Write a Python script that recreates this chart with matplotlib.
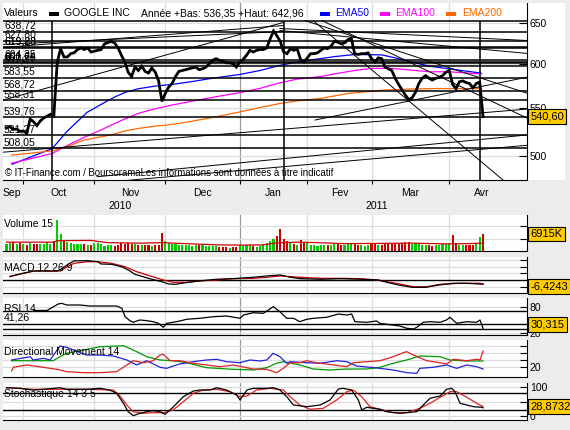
import matplotlib
matplotlib.use("Agg")
import matplotlib.pyplot as plt
from matplotlib.patches import Rectangle
from matplotlib.ticker import NullLocator
from matplotlib.transforms import blended_transform_factory, offset_copy

plt.rcParams['font.family'] = ['Liberation Sans', 'DejaVu Sans']
plt.rcParams['font.size'] = 7.5

# x = trading day index, 0 = 24 Sep 2010 ... 141 = 15 Apr 2011
closes = [
    528.5, 530, 527, 527.5, 525, 525.5, 523, 538, 535, 531,
    536, 539, 541, 543, 541, 601.5, 618, 608, 608, 612,
    613, 617, 619, 617, 619, 614, 615, 616, 617, 624,
    625.5, 627, 625, 619, 610, 602, 590, 585, 596, 592,
    597, 591, 589, 595, 590, 580, 557, 566, 573, 577,
    585, 591, 592, 593, 594, 595, 596, 593, 594, 596,
    600, 604, 606, 604, 603, 601, 601, 600, 596, 602,
    605, 610, 616, 614, 616, 617, 617, 619, 630, 640,
    634, 627, 614, 612, 618, 616, 618, 605, 602, 607,
    612, 612, 613, 616, 619, 618, 621, 627, 626, 624,
    625, 629, 631, 612, 611, 612, 612, 613, 606, 602,
    607, 606, 596, 594, 592, 583, 576, 570, 564, 559,
    561, 567, 577, 583, 586, 583, 581, 583, 584, 586,
    590, 592, 576, 571, 579, 580, 578, 577, 572, 577,
    578.5, 540.6]

# volume in thousands
volumes = [
    2900, 3300, 3700, 2800, 3400, 3000, 2300, 3400, 2800, 3000,
    3000, 3000, 3700, 3000, 4100, 12700, 6900, 4300, 3500, 3100,
    3000, 2800, 3000, 2900, 2500, 2600, 3100, 3400, 3000, 2200,
    2300, 2400, 2200, 2400, 3300, 3000, 3200, 2800, 2700, 2300,
    2500, 2400, 2300, 2100, 2300, 2400, 7400, 4000, 3300, 2800,
    2700, 2500, 2400, 2500, 2300, 2200, 2300, 2600, 2400, 2000,
    2100, 2200, 2000, 1800, 1700, 1500, 1400, 1600, 1500, 2300,
    2100, 2600, 2300, 2000, 1800, 2200, 2700, 3200, 4000, 4900,
    6100, 9100, 4900, 3900, 3400, 2900, 2600, 4300, 3600, 3100,
    2400, 2300, 2200, 2300, 2600, 2500, 2400, 3000, 2900, 2400,
    2600, 2800, 3200, 3300, 2600, 2400, 2200, 2500, 3100, 3000,
    2500, 2300, 3100, 2800, 2700, 3400, 3000, 3100, 3800, 3500,
    2900, 3300, 2800, 2500, 2600, 2500, 2200, 2400, 2500, 2700,
    2900, 2700, 6600, 3200, 2600, 2500, 2400, 2400, 2600, 3000,
    5600, 6915]
vma_idx = [0, 14, 15, 25, 27, 30, 40, 46, 55, 62, 70, 76, 80, 86, 92, 100, 110, 120, 130, 136, 141]
vma = [3600, 3600, 4200, 4300, 3900, 3400, 3200, 3400, 2900, 2500, 2400, 2500, 3300, 3600, 3400,
       3000, 3100, 3200, 2900, 3000, 3200]

ema50_idx = [1.6, 13.5, 17.9, 23.8, 29.1, 32.1, 35.1, 38.9, 43.9, 49, 53.7, 61.7, 69.1, 75,
             80.9, 85.9, 92.8, 97.2, 103.1, 111.1, 117, 120.9, 125.3, 132.7, 140.4]
ema50 = [492, 507.5, 525, 545, 556, 562, 567, 571, 574, 576, 578.5, 583.5, 587.4, 592,
         598, 602, 606, 608.5, 611, 610.5, 605, 601, 597, 593, 589]
ema100_idx = [1.5, 13.4, 18.8, 23.7, 27.7, 30.6, 35, 39, 44, 49, 54, 61.7, 69, 75, 81, 86,
              93, 97, 103, 108, 114, 121, 125, 131, 140.6]
ema100 = [493, 502.5, 512, 520, 526, 531, 538, 544, 549, 553, 556.6, 562, 566.6, 571.5, 578,
          582, 585, 588, 592, 594.5, 594.5, 592, 590.5, 590.5, 588]
ema200_idx = [1.5, 7.9, 13.4, 17.8, 22.7, 30.6, 35.1, 38.9, 43.9, 48.9, 53.8, 61.7, 69.1, 75,
              80.9, 85.9, 92.8, 101, 111, 120, 127.3, 140.6]
ema200 = [501, 503.2, 505.2, 509.2, 515.9, 521.1, 525.5, 528, 530.4, 532.2, 534.9, 540.2,
          545.6, 550.3, 554.7, 557.5, 560.2, 565.7, 569.4, 570.8, 571.3, 571.3]

# user drawn horizontal levels (left labels) and trend lines
levels = [653.3, 638.72, 627.80, 619.83, 619.28, 604.35, 601.64, 600.76, 597.31,
          583.55, 568.72, 558.31, 539.76, 521.27, 508.05]
level_labels = ['', '638,72', '627,80', '619,83', '619,28', '604,35', '601,64', '600,76',
                '597,31', '583,55', '568,72', '558,31', '539,76', '521,27', '508,05']
trend_x0 = [-1.0, -1.0, -1.0, 90.7, 93.3, 88.3, 80.9, 80.9, 91.3, -1.0, 26.8, 27.7]
trend_p0 = [558.4, 619.5, 623.3, 653.3, 653.3, 653.3, 643.1, 640.6, 536.9, 503.9, 480.1, 474.4]
trend_x1 = [81.8, 81.8, 81.8, 147.5, 154, 154, 154, 154, 154, 154, 154, 154]
trend_p1 = [650.7, 646.9, 639.3, 475.4, 539.0, 566.1, 628.1, 612.3, 584.2, 548.6, 521.3, 510.8]
vline_idx = [13.5, 82, 140]
vline_top = 653.3

macd_idx = [1, 4, 8, 15, 16, 18, 20, 24, 27, 28, 31, 34, 36, 38, 41, 43, 46, 48, 50, 53,
            57, 62, 67, 73, 77, 81, 84, 87, 93, 99, 105, 110, 113, 116, 120, 124, 128, 132,
            136, 140, 141]
macd = [5.5, 9, 13.6, 13.6, 16, 23, 29, 29.2, 27.7, 24.2, 23.8, 20.2, 15.2, 8.6, 4.1, 1.1,
        -2.6, -6.1, -6.5, -4.1, -1.5, 1.1, 2.0, 4.1, 6.1, 7.6, 4.1, 2.0, 1.1, 2.0, 1.1, 0,
        -4.1, -7.6, -11.1, -11.1, -7.6, -5.0, -5.0, -6.1, -6.4243]
signal_idx = [1, 4, 8, 16, 18, 20, 24, 27, 31, 35, 38.5, 42.5, 46.4, 49.3, 53.3, 57, 62, 67,
              73, 77, 81, 87, 93, 99, 104.6, 109.5, 114.4, 120.4, 124.3, 128.3, 134.2, 140, 141]
signal = [5, 9.1, 13.6, 13.6, 20.2, 25.3, 27.7, 27.7, 25.3, 20.2, 12.6, 6.1, 0, -3.5, -3.5,
          -1.5, 0, 2, 2.5, 4.1, 6.1, 4.1, 2.5, 2.5, 2.0, 0, -4.1, -10.2, -10.2, -6.5, -5, -5, -5.8]

rsi_idx = [8, 12, 15.3, 16.3, 17.8, 21.7, 24.7, 32.6, 34.1, 35.1, 36.5, 37.5, 38.5, 39.5, 41.5,
           43.4, 44.9, 46.4, 47.4, 49.3, 51.3, 53.3, 57.2, 61.2, 65.1, 69.1, 70.1, 73, 76, 78.9,
           80.9, 82.9, 84.9, 86.8, 88.8, 90.8, 94.7, 98.2, 100.7, 102.1, 103.1, 106.6, 109.5,
           110.5, 112.5, 116.4, 118.4, 120.4, 121.4, 123.3, 125.3, 128.3, 130.2, 131.2, 133.2,
           136.2, 139.1, 140.1, 141]
rsi = [72, 72, 87, 88.5, 84.6, 84.6, 82.3, 82.3, 77, 57.6, 48.4, 44.7, 47.7, 50, 48.4, 46.1,
       42.4, 33.1, 42.4, 44.7, 47.7, 51.6, 53.9, 57.6, 59.2, 53.9, 61.5, 66.8, 65.4, 80.7, 69.1,
       53.9, 53.9, 46.1, 51.6, 53.9, 56.2, 63.8, 61.5, 63.8, 46.1, 44.7, 47.7, 42.4, 40, 36.1,
       30.8, 29.2, 33.1, 44.7, 46.1, 44.7, 50, 56.2, 42.4, 46.1, 44.7, 50, 30.315]
rsi_levels = [70, 41.26, 30]

adx_idx = [1.5, 13.8, 15.8, 17.8, 22.7, 27.7, 34.6, 37.5, 41.5, 45.4, 49.3, 53.3, 59.2, 67.1,
           73, 77, 79.9, 81.9, 86.8, 90.8, 95.7, 100.7, 106.6, 110.5, 114.4, 118.4, 122.3,
           128.3, 131.2, 136.2, 141]
adx = [29, 29, 34.7, 39.6, 44.3, 49, 50.4, 44.3, 34.7, 30, 29, 26.1, 19, 16.7, 15.7, 19, 25.3,
       27.6, 22.9, 17.1, 15.7, 17.1, 17.1, 19.6, 25.3, 30, 35.7, 34.7, 30, 28.6, 28.6]
pdi_idx = [1.5, 7, 7.9, 10.9, 12.9, 15.8, 17.8, 19.8, 23.7, 27.7, 31.6, 35.6, 38.5, 41.5, 45.4,
           47.4, 49.3, 51.3, 55.3, 59.2, 62.2, 65.1, 69.1, 72, 75, 77, 78.9, 80.9, 82.9, 83.9,
           88.8, 92.8, 97.7, 100.7, 103.6, 107.5, 110.5, 114.4, 118.4, 121.4, 122.3, 126.3,
           130.2, 133.2, 136.2, 139.1, 141]
pdi = [30, 34.7, 30, 32.4, 30, 50, 48.1, 44.3, 37.1, 37.1, 35.7, 30, 22.9, 29, 19.6, 18.1, 21.4,
       24.3, 27.6, 30, 31, 27.6, 26.1, 30, 28.6, 30, 39.6, 34.7, 25.3, 27.6, 26.1, 25.3, 29,
       27.6, 21.4, 19.6, 18.1, 15.7, 11.9, 11, 18.1, 19.6, 22.9, 18.1, 22.9, 20.4, 17.1]
mdi_idx = [1.5, 2, 6, 12.9, 14.9, 17.8, 22.7, 27.7, 32.6, 34.6, 37.5, 40.5, 43.4, 45.4, 46.4,
           48.4, 51.3, 55.3, 59.2, 63.2, 67.1, 73, 77, 79.9, 81.9, 83.9, 86.8, 88.8, 91.8, 96.7,
           100.7, 102.6, 106.6, 110.5, 114.4, 117.4, 118.4, 120.4, 124.3, 128.3, 130.2, 132.2,
           136.2, 139.1, 140.1, 141]
mdi = [14.3, 19.6, 22.9, 18.1, 16.7, 13.3, 11.9, 11.9, 13.3, 19.6, 29, 26.1, 29, 37.1, 38.1,
       29, 29, 25.3, 22.9, 20.4, 22.9, 17.1, 16.7, 11.9, 18.1, 26.1, 26.1, 29, 26.1, 22.9, 20.4,
       26.1, 27.6, 29, 34.7, 40.4, 41.9, 37.1, 29, 26.1, 24.3, 31, 29, 31, 30, 42.9]

k_idx = [0, 4, 7.9, 12.9, 15.8, 17.8, 23.7, 27.7, 30.6, 32.6, 34.6, 36, 37.5, 39.5, 41.5, 43.4,
         45.4, 46.9, 48.4, 50.4, 52.3, 55.3, 57.2, 60.2, 62.2, 65.1, 68.1, 69.1, 71.1, 73, 77,
         78.9, 80.9, 82.9, 84.9, 88.8, 92.8, 95.7, 98.2, 99.6, 102.1, 104.1, 105.1, 106.6,
         110.5, 112.5, 116.4, 121.4, 123.3, 125.3, 128.3, 130.2, 131.7, 132.7, 134.2, 136.2,
         138.2, 140.6, 141]
stoch_k = [96, 94, 88, 92.7, 96, 90.7, 90.7, 94, 88, 77.3, 44, 16, 2.7, 10.7, 16, 19.3, 16, 7.3,
           21.7, 44, 66, 85, 88.3, 88.3, 96, 88.3, 71.7, 55, 88.3, 94, 94, 96, 88.3, 66, 38.3,
           32.7, 38.3, 55, 91.7, 94, 88.3, 55, 21.7, 30.7, 24, 16, 10.7, 16, 38.3, 60.7, 68.3,
           90.7, 94, 82.7, 44, 38.3, 32.7, 30.7, 28.8732]
d_idx = [0, 7.9, 15.8, 23.7, 31.6, 33.6, 35.6, 37.5, 40.5, 43.4, 46.4, 49.3, 52.3, 55.3, 58.2,
         62.2, 66.1, 69.1, 71.1, 74, 78, 81.9, 83.9, 86.8, 89.8, 93.7, 97.7, 100.7, 102.6,
         105.1, 107.5, 110.5, 114.4, 118.4, 122.3, 125.3, 128.3, 131.2, 133.2, 136.2, 139.1, 141]
stoch_d = [96, 90.7, 90.7, 90.7, 88.3, 68.3, 38.3, 16, 10.7, 12.7, 12.7, 21.7, 49.3, 77.3, 88.3,
           90.7, 82.7, 66, 68.3, 88.3, 94, 88.3, 66, 38.3, 24, 27.3, 55, 82.7, 88.3, 66, 32.7,
           24, 12.7, 12.7, 27.3, 44, 64, 82.7, 82.7, 64, 44, 33]
stoch_levels = [80, 20]

month_names = ['Sep', 'Oct', 'Nov', 'Dec', 'Jan', 'Fev', 'Mar', 'Avr']
month_bounds = [-1.8, 5, 26, 47, 69, 89, 108, 131, 150]
year_names = ['2010', '2011']
year_bounds = [-1.8, 69, 150]

W, H = 570, 430
X0, X1 = -1.04, 154.0
BG = '#ECECEC'
GRID = '#DDDDDD'


def rect(x0, y0, x1, y1):
    return [x0 / W, 1 - y1 / H, (x1 - x0) / W, (y1 - y0) / H]


def fpos(x, y):
    return x / W, 1 - y / H


fig = plt.figure(figsize=(5.7, 4.3), dpi=100, facecolor=BG)

# white strip behind right price labels
fig.patches.append(Rectangle(fpos(527, 180), 38 / W, 177 / H, transform=fig.transFigure,
                             fc='white', ec='none', zorder=-1))

month_lines = month_bounds[1:-1]


def month_grid(a):
    for m in month_lines:
        a.axvline(m, color='#999999' if m == 69 else GRID, lw=0.9, zorder=0)


# ---------------- main price panel ----------------
ax = fig.add_axes(rect(3, 3, 527, 180))
ax.set_facecolor('white')
ax.set_xlim(X0, X1)
ax.set_yscale('log')
ax.set_ylim(477.0, 676.3)
for s in ['top', 'left']:
    ax.spines[s].set_visible(False)
ax.yaxis.tick_right()
ax.set_yticks([500, 550, 600, 650], labels=['500', '550', '600', '650'])
ax.yaxis.set_minor_locator(NullLocator())
ax.tick_params(axis='y', direction='in', length=6, pad=2, labelsize=7.5)
ax.set_xticks(month_lines)
ax.tick_params(axis='x', direction='out', length=3, labelbottom=False)
month_grid(ax)
for t in [500, 550, 600, 650]:
    ax.axhline(t, color=GRID, lw=0.9, zorder=0)

idx = list(range(len(closes)))
ax.plot(ema50_idx, ema50, color='#0000FF', lw=0.9, zorder=1)
ax.plot(ema100_idx, ema100, color='#FF00FF', lw=0.9, zorder=1)
ax.plot(ema200_idx, ema200, color='#FF6600', lw=0.9, zorder=1)

for lv in levels:
    ax.axhline(lv, color='black', lw=1.1, zorder=3)
trans_lbl = offset_copy(blended_transform_factory(ax.transAxes, ax.transData),
                        fig=fig, x=0, y=3.0, units='dots')
for lv, lb in zip(levels, level_labels):
    if lb:
        ax.text(0.002, lv, lb, transform=trans_lbl, va='baseline', ha='left',
                fontsize=7.5, zorder=4)
for x0, p0, x1, p1 in zip(trend_x0, trend_p0, trend_x1, trend_p1):
    ax.plot([x0, x1], [p0, p1], color='black', lw=0.7, zorder=3)
ax.vlines(vline_idx, 470, vline_top, color='black', lw=1.1, zorder=3)

ax.plot(idx, closes, color='black', lw=2.0, zorder=5, solid_joinstyle='miter')

ax.text(0.004, 0.04, '© IT-Finance.com / BoursoramaLes informations sont données à titre indicatif',
        transform=ax.transAxes, fontsize=6.9, va='center', ha='left', zorder=2)

box = dict(boxstyle='square,pad=0.22', fc='#FFCC00', ec='black', lw=0.8)
ax.text(1.006, closes[-1], '540,60', transform=blended_transform_factory(ax.transAxes, ax.transData),
        va='center', ha='left', fontsize=8, bbox=box, clip_on=False, zorder=10)

# title / legend row
fig.text(*fpos(4, 13), 'Valeurs', va='center', ha='left', fontsize=7.5)
fig.text(*fpos(64, 13), 'GOOGLE INC', va='center', ha='left', fontsize=7.5)
fig.text(*fpos(141, 13), 'Année +Bas: 536,35 +Haut: 642,96', va='center', ha='left', fontsize=7.5)
for xs, col, name, xt in [(49, 'black', None, None), (320, '#0000FF', 'EMA50', 335),
                          (380, '#FF00FF', 'EMA100', 395), (446, '#FF6600', 'EMA200', 462)]:
    fig.patches.append(Rectangle(fpos(xs, 15.5), 10 / W, 3.5 / H, transform=fig.transFigure,
                                 fc=col, ec='none'))
    if name:
        fig.text(*fpos(xt, 13), name, color=col, va='center', ha='left', fontsize=7.5)

# ---------------- date strip ----------------
axd = fig.add_axes(rect(3, 180, 527, 215))
axd.set_xlim(X0, X1)
axd.set_ylim(0, 1)
axd.axis('off')
for i, name in enumerate(month_names):
    axd.text((month_bounds[i] + month_bounds[i + 1]) / 2, 0.63, name, ha='center', va='center',
             fontsize=7.5)
for i, name in enumerate(year_names):
    axd.text((year_bounds[i] + year_bounds[i + 1]) / 2, 0.26, name, ha='center', va='center',
             fontsize=7.5)


# ---------------- indicator panels ----------------
def panel(top, bottom, ylim, ticks, labels):
    a = fig.add_axes(rect(3, top, 527, bottom))
    a.set_facecolor('white')
    a.set_xlim(X0, X1)
    a.set_ylim(*ylim)
    a.spines['top'].set_visible(False)
    a.spines['left'].set_visible(False)
    a.yaxis.tick_right()
    a.set_yticks(ticks, labels=labels)
    a.set_xticks([])
    a.tick_params(axis='y', direction='in', length=5, pad=2, labelsize=7.5)
    month_grid(a)
    for t in ticks:
        a.axhline(t, color=GRID, lw=0.9, zorder=0)
    return a


def value_box(a, y, text):
    a.text(1.006, y, text, transform=blended_transform_factory(a.transAxes, a.transData),
           va='center', ha='left', fontsize=8, bbox=box, clip_on=False, zorder=10)


# volume
av = panel(215, 251, (0, 14650), [5000, 10000], ['', ''])
cols = ['#00CC00' if i == 0 or closes[i] >= closes[i - 1] else '#CC0000' for i in idx]
av.bar(idx, volumes, width=0.62, color=cols, zorder=2)
av.plot(vma_idx, vma, color='#CC0000', lw=0.9, zorder=3)
value_box(av, volumes[-1], '6915K')
fig.text(*fpos(4, 224), 'Volume 15', va='center', ha='left', fontsize=7.5)

# MACD
am = panel(257, 293, (-19.7, 34.8), [-10, 10, 20, 30], ['', '', '', ''])
am.axhline(0, color='black', lw=1.0, zorder=1)
am.plot(macd_idx, macd, color='black', lw=0.9, zorder=3)
am.plot(signal_idx, signal, color='#CC0000', lw=0.9, zorder=2)
value_box(am, macd[-1] - 3, '-6,4243')
fig.text(*fpos(4, 268), 'MACD 12 26 9', va='center', ha='left', fontsize=7.5)

# RSI
ar = panel(298, 335, (15.3, 100.8), [20, 80], ['20', '80'])
for lv in rsi_levels:
    ar.axhline(lv, color='black', lw=1.0, zorder=1)
ar.plot(rsi_idx, rsi, color='black', lw=0.9, zorder=3)
ar.text(0.002, rsi_levels[1], '41,26',
        transform=offset_copy(blended_transform_factory(ar.transAxes, ar.transData),
                              fig=fig, x=0, y=3.0, units='dots'),
        va='baseline', ha='left', fontsize=7.5)
value_box(ar, max(rsi[-1], 39.0), '30,315')
fig.text(*fpos(4, 309), 'RSI 14', va='center', ha='left', fontsize=7.5)

# Directional movement
adm = panel(340, 377, (5.7, 58.6), [20, 30, 40, 50], ['20', '', '', ''])
adm.plot(adx_idx, adx, color='#009900', lw=0.9, zorder=2)
adm.plot(pdi_idx, pdi, color='#2222DD', lw=0.9, zorder=3)
adm.plot(mdi_idx, mdi, color='#DD2222', lw=0.9, zorder=4)
fig.text(*fpos(4, 352), 'Directional Movement 14', va='center', ha='left', fontsize=7.5)

# Stochastic
ast = panel(383, 420, (-11.7, 111.7), [0, 50, 100], ['0', '', '100'])
for lv in stoch_levels:
    ast.axhline(lv, color='black', lw=1.0, zorder=1)
ast.plot(d_idx, stoch_d, color='#DD2222', lw=0.9, zorder=2)
ast.plot(k_idx, stoch_k, color='black', lw=0.9, zorder=3)
value_box(ast, stoch_k[-1] + 3, '28,8732')
fig.text(*fpos(4, 394), 'Stochastique 14 3 5', va='center', ha='left', fontsize=7.5)

fig.savefig('out.png', dpi=100, facecolor=BG)
